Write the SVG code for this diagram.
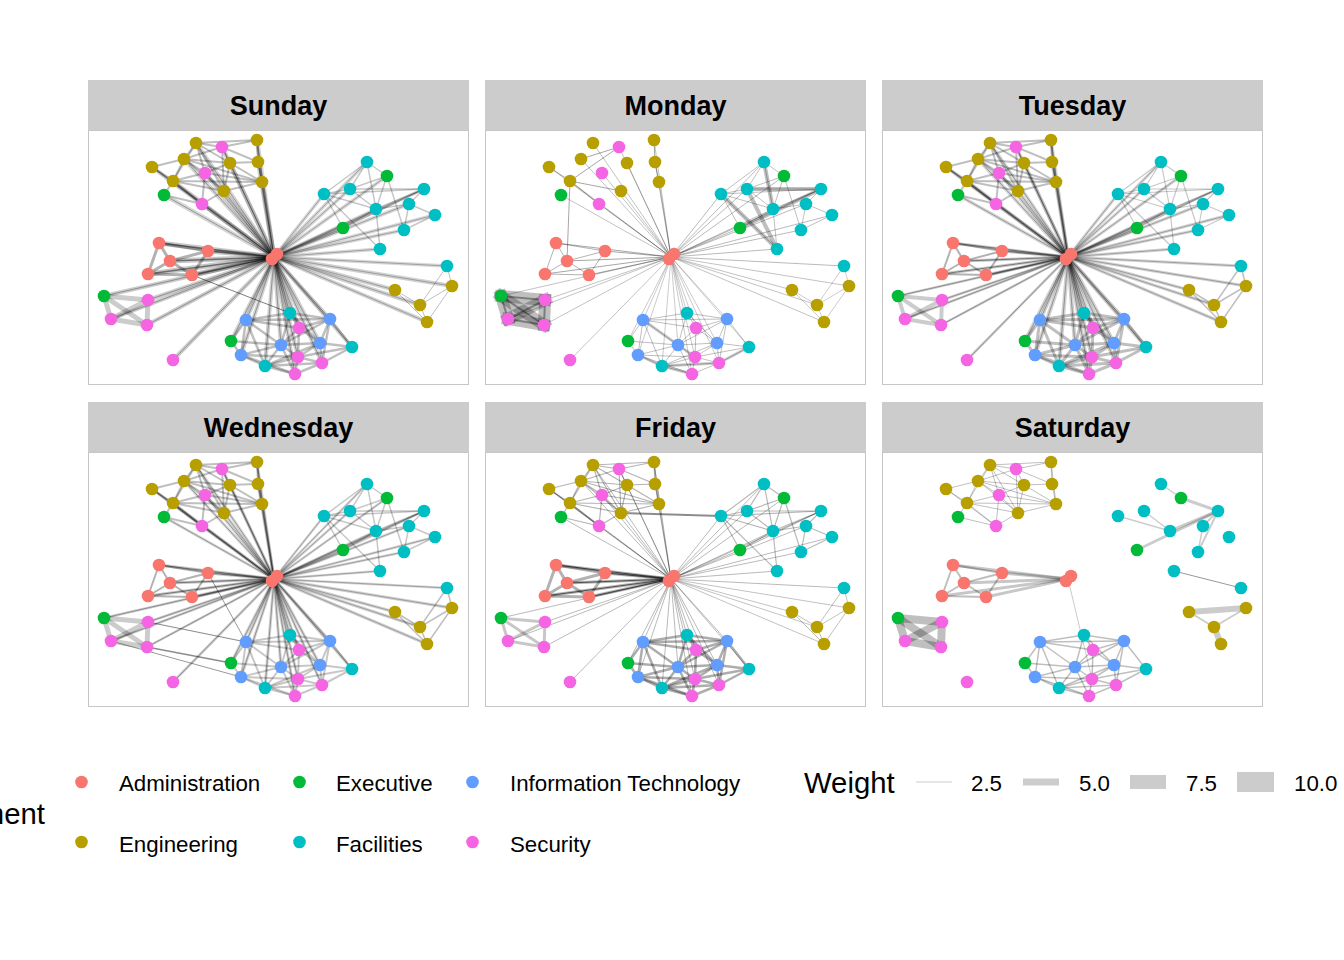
<svg xmlns="http://www.w3.org/2000/svg" xmlns:xlink="http://www.w3.org/1999/xlink" width="1344" height="960" viewBox="0 0 1344 960">
<style>
.A{fill:#F8766D}.E{fill:#B79F00}.X{fill:#00BA38}.I{fill:#619CFF}.F{fill:#00BFC4}.S{fill:#F564E3}
.strip{fill:#CCCCCC}.frame{fill:#FFFFFF;stroke:#C6C6C6;stroke-width:1}
.title{font-family:"Liberation Sans",Arial,sans-serif;font-weight:bold;font-size:27px;text-anchor:middle;fill:#000}
.leg{font-family:"Liberation Sans",Arial,sans-serif;font-size:22.3px;fill:#000}
.legt{font-family:"Liberation Sans",Arial,sans-serif;font-size:29.3px;fill:#000}
.edges{stroke:#000;stroke-opacity:.2;fill:none;stroke-linecap:round}
.key{fill:#CCCCCC}
</style>
<defs>
<g id="starEng"><path d="M274 257L196 143"/><path d="M274 257L257 140"/><path d="M274 257L184 159"/><path d="M274 257L230 163"/><path d="M274 257L258 162"/><path d="M274 257L152 167"/><path d="M274 257L173 181"/><path d="M274 257L262 182"/><path d="M274 257L224 191"/><path d="M274 257L164 195"/><path d="M274 257L222 147"/><path d="M274 257L205 173"/><path d="M274 257L202 204"/></g>
<g id="starFac"><path d="M274 257L367 162"/><path d="M274 257L424 189"/><path d="M274 257L324 194"/><path d="M274 257L350 189"/><path d="M274 257L409 204"/><path d="M274 257L376 209"/><path d="M274 257L435 215"/><path d="M274 257L404 230"/><path d="M274 257L380 249"/><path d="M274 257L447 266"/><path d="M274 257L387 176"/><path d="M274 257L343 228"/></g>
<g id="starRight"><path d="M274 257L395 290"/><path d="M274 257L452 286"/><path d="M274 257L420 305"/><path d="M274 257L427 322"/></g>
<g id="starAdm"><path d="M274 257L159 243"/><path d="M274 257L208 251"/><path d="M274 257L170 261"/><path d="M274 257L148 274"/><path d="M274 257L192 275"/></g>
<g id="starSec"><path d="M274 257L104 296"/><path d="M274 257L148 300"/><path d="M274 257L111 319"/><path d="M274 257L147 325"/><path d="M274 257L173 360"/></g>
<g id="starBot"><path d="M274 257L246 320"/><path d="M274 257L330 319"/><path d="M274 257L281 345"/><path d="M274 257L320 343"/><path d="M274 257L241 355"/><path d="M274 257L231 341"/><path d="M274 257L290 313"/><path d="M274 257L352 347"/><path d="M274 257L265 366"/><path d="M274 257L299 328"/><path d="M274 257L298 357"/><path d="M274 257L322 363"/><path d="M274 257L295 374"/></g>
<g id="engc"><path d="M196 143L184 159"/><path d="M196 143L222 147"/><path d="M196 143L230 163"/><path d="M196 143L257 140"/><path d="M196 143L205 173"/><path d="M196 143L173 181"/><path d="M196 143L224 191"/><path d="M184 159L152 167"/><path d="M184 159L173 181"/><path d="M184 159L205 173"/><path d="M184 159L230 163"/><path d="M184 159L224 191"/><path d="M152 167L173 181"/><path d="M173 181L164 195"/><path d="M173 181L202 204"/><path d="M173 181L205 173"/><path d="M173 181L224 191"/><path d="M230 163L222 147"/><path d="M230 163L258 162"/><path d="M230 163L224 191"/><path d="M230 163L205 173"/><path d="M230 163L262 182"/><path d="M222 147L257 140"/><path d="M222 147L258 162"/><path d="M257 140L258 162"/><path d="M258 162L262 182"/><path d="M205 173L224 191"/><path d="M205 173L202 204"/><path d="M205 173L262 182"/><path d="M224 191L202 204"/><path d="M224 191L262 182"/><path d="M164 195L202 204"/><path d="M152 167L202 204"/><path d="M184 159L262 182"/><path d="M257 140L262 182"/><path d="M184 159L222 147"/><path d="M222 147L224 191"/><path d="M173 181L262 182"/></g>
<g id="engMon"><path d="M184 159L222 147"/><path d="M222 147L173 181"/><path d="M152 167L173 181"/><path d="M173 181L202 204"/><path d="M173 181L224 191"/><path d="M173 181L170 261"/><path d="M257 140L258 162"/><path d="M258 162L262 182"/></g>
<g id="facc"><path d="M367 162L387 176"/><path d="M367 162L350 189"/><path d="M367 162L324 194"/><path d="M367 162L376 209"/><path d="M350 189L324 194"/><path d="M350 189L387 176"/><path d="M350 189L376 209"/><path d="M350 189L424 189"/><path d="M324 194L343 228"/><path d="M324 194L376 209"/><path d="M324 194L380 249"/><path d="M376 209L387 176"/><path d="M376 209L409 204"/><path d="M376 209L380 249"/><path d="M387 176L404 230"/><path d="M424 189L409 204"/><path d="M409 204L435 215"/><path d="M409 204L404 230"/><path d="M435 215L404 230"/><path d="M343 228L376 209"/><path d="M343 228L424 189"/><path d="M324 194L424 189"/><path d="M424 189L376 209"/></g>
<g id="facThick"><path d="M324 194L380 249"/><path d="M350 189L380 249"/><path d="M367 162L376 209"/><path d="M350 189L424 189"/><path d="M343 228L424 189"/></g>
<g id="botc"><path d="M246 320L290 313"/><path d="M246 320L330 319"/><path d="M246 320L231 341"/><path d="M246 320L281 345"/><path d="M246 320L299 328"/><path d="M246 320L241 355"/><path d="M246 320L265 366"/><path d="M290 313L299 328"/><path d="M290 313L330 319"/><path d="M290 313L281 345"/><path d="M290 313L320 343"/><path d="M330 319L299 328"/><path d="M330 319L320 343"/><path d="M330 319L352 347"/><path d="M330 319L322 363"/><path d="M330 319L281 345"/><path d="M299 328L281 345"/><path d="M299 328L320 343"/><path d="M299 328L298 357"/><path d="M231 341L281 345"/><path d="M231 341L241 355"/><path d="M281 345L298 357"/><path d="M281 345L295 374"/><path d="M281 345L265 366"/><path d="M281 345L320 343"/><path d="M320 343L298 357"/><path d="M320 343L322 363"/><path d="M320 343L352 347"/><path d="M352 347L322 363"/><path d="M352 347L298 357"/><path d="M241 355L265 366"/><path d="M241 355L298 357"/><path d="M265 366L295 374"/><path d="M265 366L298 357"/><path d="M265 366L322 363"/><path d="M298 357L295 374"/><path d="M298 357L322 363"/><path d="M322 363L295 374"/><path d="M241 355L281 345"/><path d="M241 355L295 374"/><path d="M265 366L320 343"/></g>
<g id="botThick"><path d="M246 320L298 357"/><path d="M265 366L322 363"/><path d="M241 355L265 366"/><path d="M265 366L295 374"/><path d="M322 363L352 347"/></g>
<g id="admc"><path d="M159 243L208 251"/><path d="M159 243L170 261"/><path d="M159 243L148 274"/><path d="M170 261L148 274"/><path d="M170 261L192 275"/><path d="M208 251L192 275"/><path d="M208 251L170 261"/><path d="M148 274L192 275"/></g>
<g id="secc"><path d="M104 296L148 300"/><path d="M104 296L111 319"/><path d="M104 296L147 325"/><path d="M148 300L111 319"/><path d="M148 300L147 325"/><path d="M111 319L147 325"/></g>
<g id="engr"><path d="M395 290L420 305"/><path d="M395 290L427 322"/><path d="M420 305L427 322"/><path d="M452 286L420 305"/><path d="M452 286L427 322"/><path d="M452 286L447 266"/><path d="M447 266L420 305"/></g>
<g id="nodes">
<g id="node-e1"><circle class="E" cx="196" cy="143" r="6.3"/></g>
<g id="node-e2"><circle class="E" cx="257" cy="140" r="6.3"/></g>
<g id="node-e3"><circle class="E" cx="184" cy="159" r="6.3"/></g>
<g id="node-e4"><circle class="E" cx="230" cy="163" r="6.3"/></g>
<g id="node-e5"><circle class="E" cx="258" cy="162" r="6.3"/></g>
<g id="node-e6"><circle class="E" cx="152" cy="167" r="6.3"/></g>
<g id="node-e7"><circle class="E" cx="173" cy="181" r="6.3"/></g>
<g id="node-e8"><circle class="E" cx="262" cy="182" r="6.3"/></g>
<g id="node-e9"><circle class="E" cx="224" cy="191" r="6.3"/></g>
<g id="node-e10"><circle class="E" cx="395" cy="290" r="6.3"/></g>
<g id="node-e11"><circle class="E" cx="452" cy="286" r="6.3"/></g>
<g id="node-e12"><circle class="E" cx="420" cy="305" r="6.3"/></g>
<g id="node-e13"><circle class="E" cx="427" cy="322" r="6.3"/></g>
<g id="node-s1"><circle class="S" cx="222" cy="147" r="6.3"/></g>
<g id="node-s2"><circle class="S" cx="205" cy="173" r="6.3"/></g>
<g id="node-s3"><circle class="S" cx="202" cy="204" r="6.3"/></g>
<g id="node-s4"><circle class="S" cx="148" cy="300" r="6.3"/></g>
<g id="node-s5"><circle class="S" cx="111" cy="319" r="6.3"/></g>
<g id="node-s6"><circle class="S" cx="147" cy="325" r="6.3"/></g>
<g id="node-s7"><circle class="S" cx="173" cy="360" r="6.3"/></g>
<g id="node-s8"><circle class="S" cx="299" cy="328" r="6.3"/></g>
<g id="node-s9"><circle class="S" cx="298" cy="357" r="6.3"/></g>
<g id="node-s10"><circle class="S" cx="322" cy="363" r="6.3"/></g>
<g id="node-s11"><circle class="S" cx="295" cy="374" r="6.3"/></g>
<g id="node-x1"><circle class="X" cx="164" cy="195" r="6.3"/></g>
<g id="node-x2"><circle class="X" cx="387" cy="176" r="6.3"/></g>
<g id="node-x3"><circle class="X" cx="343" cy="228" r="6.3"/></g>
<g id="node-x4"><circle class="X" cx="104" cy="296" r="6.3"/></g>
<g id="node-x5"><circle class="X" cx="231" cy="341" r="6.3"/></g>
<g id="node-f1"><circle class="F" cx="367" cy="162" r="6.3"/></g>
<g id="node-f2"><circle class="F" cx="424" cy="189" r="6.3"/></g>
<g id="node-f3"><circle class="F" cx="324" cy="194" r="6.3"/></g>
<g id="node-f4"><circle class="F" cx="350" cy="189" r="6.3"/></g>
<g id="node-f5"><circle class="F" cx="409" cy="204" r="6.3"/></g>
<g id="node-f6"><circle class="F" cx="376" cy="209" r="6.3"/></g>
<g id="node-f7"><circle class="F" cx="435" cy="215" r="6.3"/></g>
<g id="node-f8"><circle class="F" cx="404" cy="230" r="6.3"/></g>
<g id="node-f9"><circle class="F" cx="380" cy="249" r="6.3"/></g>
<g id="node-f10"><circle class="F" cx="447" cy="266" r="6.3"/></g>
<g id="node-f11"><circle class="F" cx="290" cy="313" r="6.3"/></g>
<g id="node-f12"><circle class="F" cx="352" cy="347" r="6.3"/></g>
<g id="node-f13"><circle class="F" cx="265" cy="366" r="6.3"/></g>
<g id="node-i1"><circle class="I" cx="246" cy="320" r="6.3"/></g>
<g id="node-i2"><circle class="I" cx="330" cy="319" r="6.3"/></g>
<g id="node-i3"><circle class="I" cx="281" cy="345" r="6.3"/></g>
<g id="node-i4"><circle class="I" cx="320" cy="343" r="6.3"/></g>
<g id="node-i5"><circle class="I" cx="241" cy="355" r="6.3"/></g>
<g id="node-a3"><circle class="A" cx="159" cy="243" r="6.3"/></g>
<g id="node-a4"><circle class="A" cx="208" cy="251" r="6.3"/></g>
<g id="node-a5"><circle class="A" cx="170" cy="261" r="6.3"/></g>
<g id="node-a6"><circle class="A" cx="148" cy="274" r="6.3"/></g>
<g id="node-a7"><circle class="A" cx="192" cy="275" r="6.3"/></g>
<g id="node-a1"><circle class="A" cx="272" cy="259" r="6.3"/></g>
<g id="node-a2"><circle class="A" cx="277" cy="254" r="6.3"/></g>
</g>
</defs>
<rect width="1344" height="960" fill="#FFFFFF"/>

<g id="panel-sunday">
<rect class="frame" x="88.5" y="130.5" width="380" height="254"/>
<rect class="strip" x="88" y="80" width="381" height="50"/>
<text class="title" x="278.5" y="115">Sunday</text>
<g id="edges-sunday" class="edges">
<use href="#starEng" stroke-width="4.5" stroke-opacity=".16"/><use href="#starEng" stroke-width="1" stroke-opacity=".3"/>
<use href="#starFac" stroke-width="3.5" stroke-opacity=".16"/><use href="#starFac" stroke-width="1" stroke-opacity=".25"/>
<use href="#starRight" stroke-width="4" stroke-opacity=".18"/><use href="#starRight" stroke-width="1" stroke-opacity=".25"/>
<use href="#starAdm" stroke-width="5" stroke-opacity=".22"/><use href="#starAdm" stroke-width="1.5" stroke-opacity=".45"/>
<use href="#starSec" stroke-width="4" stroke-opacity=".2"/><use href="#starSec" stroke-width="1" stroke-opacity=".3"/>
<use href="#starBot" stroke-width="4" stroke-opacity=".18"/><use href="#starBot" stroke-width="1" stroke-opacity=".3"/>
<use href="#engc" stroke-width="2" stroke-opacity=".25"/>
<use href="#facc" stroke-width="1.5" stroke-opacity=".22"/>
<use href="#botc" stroke-width="2.5" stroke-opacity=".25"/>
<use href="#admc" stroke-width="3" stroke-opacity=".3"/>
<use href="#secc" stroke-width="5" stroke-opacity=".2"/>
<use href="#engr" stroke-width="1" stroke-opacity=".25"/>
<path d="M192 275L290 313" stroke-width="1" stroke-opacity=".5"/>
</g>
<use href="#nodes"/>
</g>

<g id="panel-monday" transform="translate(397,0)">
<rect class="frame" x="88.5" y="130.5" width="380" height="254"/>
<rect class="strip" x="88" y="80" width="381" height="50"/>
<text class="title" x="278.5" y="115">Monday</text>
<g id="edges-monday" class="edges">
<use href="#starEng" stroke-width="0.8" stroke-opacity=".3"/>
<use href="#starFac" stroke-width="0.8" stroke-opacity=".35"/>
<use href="#starRight" stroke-width="0.8" stroke-opacity=".3"/>
<use href="#starAdm" stroke-width="1" stroke-opacity=".35"/>
<use href="#starSec" stroke-width="0.8" stroke-opacity=".3"/>
<use href="#starBot" stroke-width="0.7" stroke-opacity=".3"/>
<use href="#engMon" stroke-width="1" stroke-opacity=".35"/>
<use href="#facc" stroke-width="1" stroke-opacity=".25"/>
<use href="#facThick" stroke-width="4" stroke-opacity=".25"/>
<use href="#botc" stroke-width="1" stroke-opacity=".25"/>
<use href="#botThick" stroke-width="3" stroke-opacity=".2"/>
<use href="#admc" stroke-width="1" stroke-opacity=".3"/>
<use href="#secc" stroke-width="12" stroke-opacity=".25" stroke-linecap="square"/>
<use href="#secc" stroke-width="2" stroke-opacity=".35"/>
<use href="#engr" stroke-width="0.8" stroke-opacity=".25"/>
</g>
<use href="#nodes"/>
</g>

<g id="panel-tuesday" transform="translate(794,0)">
<rect class="frame" x="88.5" y="130.5" width="380" height="254"/>
<rect class="strip" x="88" y="80" width="381" height="50"/>
<text class="title" x="278.5" y="115">Tuesday</text>
<g id="edges-tuesday" class="edges">
<use href="#starEng" stroke-width="3.5" stroke-opacity=".16"/><use href="#starEng" stroke-width="1" stroke-opacity=".3"/>
<use href="#starFac" stroke-width="3" stroke-opacity=".17"/><use href="#starFac" stroke-width="1" stroke-opacity=".25"/>
<use href="#starRight" stroke-width="3" stroke-opacity=".18"/><use href="#starRight" stroke-width="1" stroke-opacity=".25"/>
<use href="#starAdm" stroke-width="3" stroke-opacity=".22"/><use href="#starAdm" stroke-width="1.2" stroke-opacity=".4"/>
<use href="#starSec" stroke-width="2.5" stroke-opacity=".2"/><use href="#starSec" stroke-width="1" stroke-opacity=".3"/>
<use href="#starBot" stroke-width="4" stroke-opacity=".18"/><use href="#starBot" stroke-width="1" stroke-opacity=".3"/>
<use href="#engc" stroke-width="2" stroke-opacity=".25"/>
<use href="#facc" stroke-width="1.2" stroke-opacity=".22"/>
<use href="#botc" stroke-width="3" stroke-opacity=".25"/>
<use href="#admc" stroke-width="2" stroke-opacity=".3"/>
<use href="#secc" stroke-width="4" stroke-opacity=".2"/>
<use href="#engr" stroke-width="1.5" stroke-opacity=".25"/>
</g>
<use href="#nodes"/>
</g>

<g id="panel-wednesday" transform="translate(0,322)">
<rect class="frame" x="88.5" y="130.5" width="380" height="254"/>
<rect class="strip" x="88" y="80" width="381" height="50"/>
<text class="title" x="278.5" y="115">Wednesday</text>
<g id="edges-wednesday" class="edges">
<use href="#starEng" stroke-width="3" stroke-opacity=".16"/><use href="#starEng" stroke-width="1" stroke-opacity=".3"/>
<use href="#starFac" stroke-width="2.5" stroke-opacity=".17"/><use href="#starFac" stroke-width="1" stroke-opacity=".25"/>
<use href="#starRight" stroke-width="3" stroke-opacity=".18"/><use href="#starRight" stroke-width="1" stroke-opacity=".25"/>
<use href="#starAdm" stroke-width="3" stroke-opacity=".22"/><use href="#starAdm" stroke-width="1.2" stroke-opacity=".4"/>
<use href="#starSec" stroke-width="2.5" stroke-opacity=".2"/><use href="#starSec" stroke-width="1" stroke-opacity=".3"/>
<use href="#starBot" stroke-width="3" stroke-opacity=".18"/><use href="#starBot" stroke-width="1" stroke-opacity=".3"/>
<use href="#engc" stroke-width="2" stroke-opacity=".25"/>
<use href="#facc" stroke-width="1.5" stroke-opacity=".22"/>
<use href="#botc" stroke-width="2" stroke-opacity=".22"/>
<use href="#admc" stroke-width="2" stroke-opacity=".3"/>
<use href="#secc" stroke-width="5" stroke-opacity=".2"/>
<use href="#engr" stroke-width="1.5" stroke-opacity=".25"/>
<path d="M147 325L231 341" stroke-width="1.5" stroke-opacity=".45"/><path d="M148 300L246 320" stroke-width="1.2" stroke-opacity=".45"/><path d="M111 319L241 355" stroke-width="1" stroke-opacity=".4"/><path d="M208 251L246 320" stroke-width="1" stroke-opacity=".4"/>
</g>
<use href="#nodes"/>
</g>

<g id="panel-friday" transform="translate(397,322)">
<rect class="frame" x="88.5" y="130.5" width="380" height="254"/>
<rect class="strip" x="88" y="80" width="381" height="50"/>
<text class="title" x="278.5" y="115">Friday</text>
<g id="edges-friday" class="edges">
<use href="#starEng" stroke-width="0.8" stroke-opacity=".35"/>
<use href="#starFac" stroke-width="0.8" stroke-opacity=".35"/>
<use href="#starRight" stroke-width="0.8" stroke-opacity=".3"/>
<use href="#starAdm" stroke-width="3" stroke-opacity=".3"/><use href="#starAdm" stroke-width="1.2" stroke-opacity=".55"/>
<use href="#starSec" stroke-width="0.8" stroke-opacity=".35"/>
<use href="#starBot" stroke-width="0.8" stroke-opacity=".35"/>
<use href="#engc" stroke-width="1.2" stroke-opacity=".3"/>
<use href="#facc" stroke-width="1.2" stroke-opacity=".28"/>
<use href="#botc" stroke-width="2.5" stroke-opacity=".32"/>
<use href="#admc" stroke-width="3" stroke-opacity=".3"/>
<use href="#secc" stroke-width="3" stroke-opacity=".22"/>
<use href="#engr" stroke-width="1" stroke-opacity=".25"/>
<path d="M224 191L324 194" stroke-width="2" stroke-opacity=".45"/>
</g>
<use href="#nodes"/>
</g>

<g id="panel-saturday" transform="translate(794,322)">
<rect class="frame" x="88.5" y="130.5" width="380" height="254"/>
<rect class="strip" x="88" y="80" width="381" height="50"/>
<text class="title" x="278.5" y="115">Saturday</text>
<g id="edges-saturday" class="edges">
<use href="#starAdm" stroke-width="3" stroke-opacity=".22"/>
<use href="#engc" stroke-width="1" stroke-opacity=".25"/>
<path d="M387 176L367 162" stroke-width="1.5"/><path d="M424 189L376 209" stroke-width="3"/><path d="M424 189L343 228" stroke-width="3"/><path d="M424 189L409 204" stroke-width="2"/><path d="M424 189L404 230" stroke-width="2"/><path d="M387 176L424 189" stroke-width="3"/><path d="M376 209L350 189" stroke-width="1.5"/><path d="M376 209L324 194" stroke-width="1.5"/><path d="M409 204L404 230" stroke-width="1.5"/><path d="M380 249L447 266" stroke-width="0.8" stroke-opacity=".5"/>
<use href="#botc" stroke-width="1.5" stroke-opacity=".25"/>
<use href="#admc" stroke-width="2" stroke-opacity=".25"/>
<use href="#secc" stroke-width="8" stroke-opacity=".25"/>
<path d="M395 290L452 286" stroke-width="6"/><path d="M420 305L427 322" stroke-width="6"/><path d="M395 290L420 305" stroke-width="2"/><path d="M452 286L420 305" stroke-width="2"/>
<path d="M274 257L298 357" stroke-width="0.6" stroke-opacity=".35"/>
</g>
<use href="#nodes"/>
</g>

<g id="legend">
<text class="legt" x="45" y="824" text-anchor="end">Department</text>
<g id="legend-administration"><circle class="A" cx="81.5" cy="782" r="6.3"/><text class="leg" x="119" y="791">Administration</text></g>
<g id="legend-executive"><circle class="X" cx="299.5" cy="782" r="6.3"/><text class="leg" x="336" y="791">Executive</text></g>
<g id="legend-it"><circle class="I" cx="472.5" cy="782" r="6.3"/><text class="leg" x="510" y="791">Information Technology</text></g>
<g id="legend-engineering"><circle class="E" cx="81.5" cy="842" r="6.3"/><text class="leg" x="119" y="852">Engineering</text></g>
<g id="legend-facilities"><circle class="F" cx="299.5" cy="842" r="6.3"/><text class="leg" x="336" y="852">Facilities</text></g>
<g id="legend-security"><circle class="S" cx="472.5" cy="842" r="6.3"/><text class="leg" x="510" y="852">Security</text></g>
<text class="legt" x="804" y="793">Weight</text>
<line x1="916" y1="782" x2="952" y2="782" stroke="#CCCCCC" stroke-width="1"/>
<text class="leg" x="971" y="791">2.5</text>
<rect class="key" x="1023" y="778.5" width="36" height="7"/>
<text class="leg" x="1079" y="791">5.0</text>
<rect class="key" x="1130" y="775" width="36" height="14"/>
<text class="leg" x="1186" y="791">7.5</text>
<rect class="key" x="1237" y="772" width="37" height="20"/>
<text class="leg" x="1294" y="791">10.0</text>
</g>
</svg>
